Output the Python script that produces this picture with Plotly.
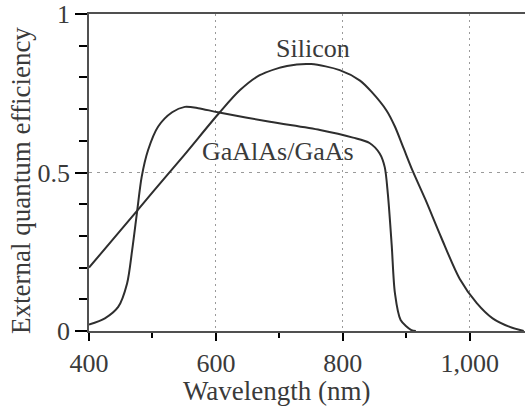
import plotly.graph_objects as go

# Data
si_wl = [400, 450, 500, 550, 606, 638, 669, 712, 750, 795, 827, 845, 869, 882, 896, 910, 930, 955, 984, 1011, 1036, 1063, 1085]
si_eff = [0.20, 0.318, 0.437, 0.555, 0.69, 0.76, 0.807, 0.836, 0.842, 0.823, 0.79, 0.755, 0.695, 0.645, 0.575, 0.505, 0.415, 0.295, 0.165, 0.088, 0.04, 0.013, 0.0]

ga_wl = [400, 425, 446, 460, 468, 476, 483, 493, 509, 531, 551, 572, 603, 685, 764, 816, 842, 858, 866, 871, 877, 882, 891, 908, 915]
ga_eff = [0.02, 0.04, 0.076, 0.15, 0.255, 0.38, 0.486, 0.57, 0.645, 0.69, 0.707, 0.703, 0.69, 0.66, 0.634, 0.61, 0.593, 0.56, 0.517, 0.43, 0.27, 0.12, 0.035, 0.003, 0.0]

X_RANGE = [400, 1087]
Y_RANGE = [0, 1]

FONT = "Liberation Serif"
LINE = "#2e2e2e"
AX = "#505050"
TICK = "black"
TXT = "#3a3a3a"

fig = go.Figure()
fig.add_trace(go.Scatter(x=si_wl, y=si_eff, mode="lines", name="Silicon",
                         line=dict(color=LINE, width=2, shape="spline", smoothing=0.8)))
fig.add_trace(go.Scatter(x=ga_wl, y=ga_eff, mode="lines", name="GaAlAs/GaAs",
                         line=dict(color=LINE, width=2, shape="spline", smoothing=0.8)))

fig.add_annotation(x=753, y=0.89, text="Silicon", showarrow=False,
                   font=dict(family=FONT, size=26, color=TXT))
fig.add_annotation(x=698, y=0.565, text="GaAlAs/GaAs", showarrow=False,
                   font=dict(family=FONT, size=26, color=TXT))

# axis titles placed as annotations to match the reference position
fig.add_annotation(xref="paper", yref="paper", x=(277 - 89) / 436, y=-(391 - 331) / 317,
                   text="Wavelength (nm)", showarrow=False, xanchor="center", yanchor="middle",
                   font=dict(family=FONT, size=27, color=TXT))
fig.add_annotation(xref="paper", yref="paper", x=-(89 - 21) / 436, y=(331 - 181) / 317,
                   text="External quantum efficiency", showarrow=False, textangle=-90,
                   xanchor="center", yanchor="middle",
                   font=dict(family=FONT, size=27, color=TXT))

fig.update_layout(
    width=525, height=407,
    margin=dict(l=89, r=0, t=14, b=76),
    paper_bgcolor="white", plot_bgcolor="white",
    showlegend=False,
    font=dict(family=FONT, size=26, color=TXT),
)
fig.update_xaxes(
    range=X_RANGE, tickmode="linear", tick0=400, dtick=200, tickformat=",d",
    showline=True, linecolor=AX, linewidth=1.5, mirror=True,
    ticks="outside", ticklen=8, tickwidth=2, tickcolor=TICK,
    showgrid=True, gridcolor="#9a9a9a", gridwidth=1.2, griddash="2px,4px",
    minor=dict(ticks="outside", dtick=100, ticklen=5, tickwidth=2, tickcolor=TICK, showgrid=False),
    zeroline=False,
    tickfont=dict(family=FONT, size=26, color=TXT),
)
fig.update_yaxes(
    range=Y_RANGE, tickmode="linear", tick0=0, dtick=0.5,
    showline=True, linecolor=AX, linewidth=1.5,
    ticks="outside", ticklen=12, tickwidth=2, tickcolor=TICK,
    showgrid=True, gridcolor="#9a9a9a", gridwidth=1.2, griddash="3px,5px",
    minor=dict(ticks="outside", dtick=0.1, ticklen=8, tickwidth=2, tickcolor=TICK, showgrid=False),
    zeroline=False,
    tickfont=dict(family=FONT, size=26, color=TXT),
)

fig.write_html("out.html")
